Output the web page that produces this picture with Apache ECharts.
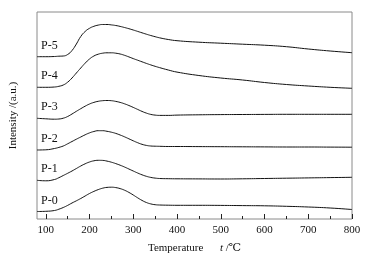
<!DOCTYPE html>
<html>
<head>
<meta charset="utf-8">
<script src="https://cdn.jsdelivr.net/npm/echarts@6/dist/echarts.min.js"></script>
<style>
    html, body {margin: 0; padding: 0; background: #fff;}
    #chart {width: 371px; height: 260px;}
</style>
</head>
<body>
<div id="chart"></div>
<script>
// temperature (°C) sample points shared by every curve
const temps = [80, 100, 120,
    130, 140, 150, 160, 170, 180, 190, 200, 210, 220, 230, 240,
    250, 260, 270, 280, 290, 300, 310, 320, 330, 340, 350, 360,
    380, 400, 450, 500, 550, 600, 650, 700, 750, 800];

// intensity with the stacking offset already in it (a.u.)
const p0 = [7.5, 7.7, 8.5,
    9.8, 11.5, 13.6, 16, 18.2, 20.5, 23, 25.5, 27.6, 29.4, 30.8, 31.6,
    31.8, 31.4, 30.4, 28.8, 26.6, 24, 21.2, 18.6, 16.5, 15.1, 14.3, 14,
    13.8, 13.7, 13.7, 13.6, 13.4, 13.2, 12.7, 12, 11, 9.5];
const p1 = [38.7, 38.2, 39.5,
    41.3, 43.5, 45.7, 48, 50.5, 53, 55.2, 57, 58.2, 58.7, 58.6, 57.9,
    56.8, 55.4, 53.8, 52, 50, 48, 46, 44.2, 42.7, 41.6, 40.9, 40.5,
    40.3, 40.2, 40.1, 40, 40.2, 40.5, 40.8, 41.1, 41.4, 41.7];
const p2 = [69, 69.2, 70.5,
    71.6, 73, 75.2, 77.5, 79.8, 82, 84.2, 86.1, 87.5, 88.3, 88.3, 87.7,
    86.8, 85.6, 84, 82.2, 80.2, 78.2, 76.3, 74.7, 73.6, 73, 72.8, 72.7,
    72.5, 72.5, 72.4, 72.3, 72.2, 72.1, 72, 72, 71.9, 71.8];
const p3 = [100.7, 100.2, 99.8,
    100, 100.8, 102.5, 105, 107.7, 110.3, 112.8, 115, 116.6, 117.7, 118.3, 118.5,
    118.3, 117.6, 116.6, 115.2, 113.5, 111.6, 109.6, 107.6, 105.9, 104.6, 103.9, 103.6,
    103.6, 103.9, 104.2, 104.4, 104.5, 104.6, 104.7, 104.7, 104.7, 104.7];
const p4 = [131.7, 131.7, 132,
    132.7, 134, 136.8, 141, 146, 151, 155.8, 160, 163, 164.8, 165.8, 166.2,
    166.2, 165.8, 165, 163.7, 162.1, 160.4, 158.8, 157.2, 155.6, 154.1, 152.7, 151.4,
    149, 146.9, 143.5, 141, 139, 136.5, 134.5, 133, 131.7, 130.7];
const p5 = [162.3, 162.3, 162.5,
    162.8, 163, 164.5, 168.5, 175, 182.5, 187.5, 190.7, 192.7, 193.9, 194.5, 194.5,
    194.1, 193.5, 192.6, 191.5, 190.3, 189, 187.6, 186.2, 184.8, 183.5, 182.3, 181.2,
    179.5, 178.3, 176.8, 175.8, 174.8, 173.8, 172.3, 170, 168, 166.3];

const names = ['P-0', 'P-1', 'P-2', 'P-3', 'P-4', 'P-5'];
const curves = [p0, p1, p2, p3, p4, p5];

const majorTicks = [100, 200, 300, 400, 500, 600, 700, 800];
const minorTicks = [150, 250, 350, 450, 550, 650, 750];

const serif = '"Liberation Serif", "DejaVu Serif", serif';

const chart = echarts.init(document.getElementById('chart'));

const series = curves.map((vals, i) => ({
    name: names[i],
    type: 'line',
    smooth: true,
    showSymbol: false,
    silent: true,
    lineStyle: {color: '#111', width: 1},
    data: temps.map((t, k) => [t, vals[k]]),
    // curve name just above its left end
    markPoint: {
        symbol: 'circle',
        symbolSize: 0,
        silent: true,
        label: {
            show: true,
            position: 'right',
            distance: 0,
            offset: [4, -11],
            formatter: '{b}',
            color: '#111',
            fontFamily: serif,
            fontSize: 12
        },
        data: [{name: names[i], coord: [temps[0], vals[0]]}]
    }
}));

chart.setOption({
    animation: false,
    grid: {
        left: 36, right: 19, top: 12, bottom: 41,
        show: true,
        borderColor: '#8a8a8a',
        borderWidth: 1
    },
    xAxis: [{
        type: 'value',
        min: 80,
        max: 800,
        axisLine: {show: false},
        splitLine: {show: false},
        axisTick: {show: true, inside: true, length: 5, lineStyle: {color: '#222'}, customValues: majorTicks},
        axisLabel: {customValues: majorTicks, color: '#111', fontFamily: serif, fontSize: 11, margin: 6},
        name: '{a|Temperature}      {b|t} /℃',
        nameLocation: 'middle',
        nameGap: 24,
        nameTextStyle: {
            color: '#111',
            fontFamily: serif,
            fontSize: 11,
            rich: {
                a: {fontFamily: serif, fontSize: 11, color: '#111'},
                b: {fontFamily: serif, fontSize: 11, fontStyle: 'italic', color: '#111'}
            }
        }
    }, {
        // minor ticks only
        type: 'value',
        position: 'bottom',
        min: 80,
        max: 800,
        axisLine: {show: false},
        splitLine: {show: false},
        axisLabel: {show: false},
        axisTick: {show: true, inside: true, length: 3, lineStyle: {color: '#222'}, customValues: minorTicks}
    }],
    yAxis: {
        type: 'value',
        min: 0,
        max: 207,
        axisLine: {show: false},
        axisTick: {show: false},
        axisLabel: {show: false},
        splitLine: {show: false},
        name: 'Intensity /(a.u.)',
        nameLocation: 'middle',
        nameGap: 18,
        nameTextStyle: {color: '#111', fontFamily: serif, fontSize: 11}
    },
    series: series
});
</script>
</body>
</html>
